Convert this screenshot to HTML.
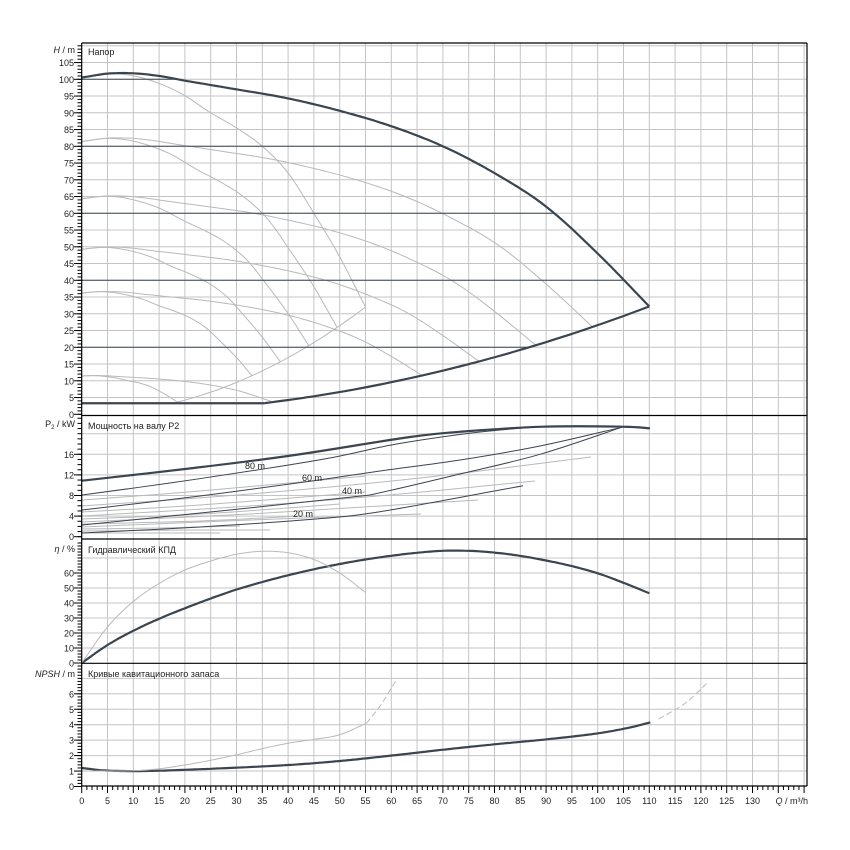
<!DOCTYPE html>
<html><head><meta charset="utf-8">
<style>
html,body{margin:0;padding:0;background:#fff;}
svg{display:block;font-family:"Liberation Sans",sans-serif;}
</style></head>
<body>
<svg id="s" width="850" height="850" viewBox="0 0 850 850" xmlns="http://www.w3.org/2000/svg">
<rect width="850" height="850" fill="#fff"/>
<g id="grid"></g>
<g id="curves"></g>
<g id="axes"></g>
<g font-size="9" fill="#222">
<text x="88" y="55">Напор</text>
<text x="88" y="429">Мощность на валу P2</text>
<text x="88" y="553">Гидравлический КПД</text>
<text x="88" y="677">Кривые кавитационного запаса</text>
<text x="245" y="469">80 m</text>
<text x="302" y="481">60 m</text>
<text x="342" y="494">40 m</text>
<text x="293" y="517">20 m</text>
<text x="75" y="53" text-anchor="end"><tspan font-style="italic">H</tspan> / m</text>
<text x="75" y="427" text-anchor="end">P<tspan font-size="6" dy="2">2</tspan><tspan dy="-2"> / kW</tspan></text>
<text x="75" y="552" text-anchor="end"><tspan font-style="italic">η</tspan> / %</text>
<text x="75" y="677" text-anchor="end"><tspan font-style="italic">NPSH</tspan> / m</text>
<text x="808" y="804" text-anchor="end"><tspan font-style="italic">Q</tspan> / m³/h</text>
</g>
<g id="labels" font-size="9" fill="#222"></g>
</svg>
<script>
const NS="http://www.w3.org/2000/svg";
const X=q=>81.7+5.16*q;
const YH=h=>414.3-3.35*h;
const YP=p=>536.7-5.15*p;
const YE=e=>663-1.5*e;
const YN=v=>786.5-15.45*v;
function el(parent,tag,attrs,text){const e=document.createElementNS(NS,tag);for(const k in attrs)e.setAttribute(k,attrs[k]);if(text!==undefined)e.textContent=text;document.getElementById(parent).appendChild(e);return e;}
function line(p,x1,y1,x2,y2,st,w){el(p,'line',{x1,y1,x2,y2,stroke:st,'stroke-width':w||1});}
function interp(pts,x){
 const n=pts.length;
 if(x<=pts[0][0])return pts[0][1];
 if(x>=pts[n-1][0])return pts[n-1][1];
 let i=1;while(pts[i][0]<x)i++;
 const a=pts[i-1],b=pts[i];
 const tg=k=>{if(k<=0)return (pts[1][1]-pts[0][1])/(pts[1][0]-pts[0][0]);if(k>=n-1)return (pts[n-1][1]-pts[n-2][1])/(pts[n-1][0]-pts[n-2][0]);return (pts[k+1][1]-pts[k-1][1])/(pts[k+1][0]-pts[k-1][0]);};
 const h=b[0]-a[0],t=(x-a[0])/h,t2=t*t,t3=t2*t;
 return (2*t3-3*t2+1)*a[1]+(t3-2*t2+t)*h*tg(i-1)+(-2*t3+3*t2)*b[1]+(t3-t2)*h*tg(i);
}
function smooth(pts){
 let d='M'+pts[0][0].toFixed(1)+','+pts[0][1].toFixed(1);
 for(let i=0;i<pts.length-1;i++){const p0=pts[i-1]||pts[i],p1=pts[i],p2=pts[i+1],p3=pts[i+2]||p2;
  const c1=[p1[0]+(p2[0]-p0[0])/6,p1[1]+(p2[1]-p0[1])/6],c2=[p2[0]-(p3[0]-p1[0])/6,p2[1]-(p3[1]-p1[1])/6];
  d+='C'+c1[0].toFixed(1)+','+c1[1].toFixed(1)+' '+c2[0].toFixed(1)+','+c2[1].toFixed(1)+' '+p2[0].toFixed(1)+','+p2[1].toFixed(1);}
 return d;}
function path(p,pts,st,w,extra){const a={d:smooth(pts),fill:'none',stroke:st,'stroke-width':w,'stroke-linejoin':'round'};Object.assign(a,extra||{});return el(p,'path',a);}
function fpath(p,data,fx,fy,lo,hi,n,st,w,extra){const pts=[];for(let i=0;i<=n;i++){const q=lo+(hi-lo)*i/n;pts.push([fx(q),fy(interp(data,q))]);}return path(p,pts,st,w,extra);}
const DARK='#3b4550', GRAY='#b9b9b9', GRID='#c4c4c4';

for(let q=5;q<=140;q+=5){line('grid',X(q),43,X(q),786,GRID,1);}
for(let h=5;h<=110;h+=5){line('grid',81.7,YH(h),807,YH(h),GRID,1);}
for(let p=4;p<=20;p+=4){line('grid',81.7,YP(p),807,YP(p),GRID,1);}
for(let e=10;e<=70;e+=10){line('grid',81.7,YE(e),807,YE(e),GRID,1);}
for(let v=1;v<=7;v++){line('grid',81.7,YN(v),807,YN(v),GRID,1);}

// ===== H panel =====
const B=[[0,100.5],[5,101.7],[10,101.8],[15,101],[20,99.6],[30,97],[40,94.3],[50,90.6],[60,86],[70,80],[80,72],[90,62],[100,48],[110,32.2]];
const S=[[0,100.5],[6,101.7],[12,100.3],[19,96],[25,90],[30,85.5],[35,80],[40,72],[45,60],[50,47],[55,32]];
const sys=(q,h0,q0)=>h0*(q/q0)*(q/q0);
[1,0.9,0.8,0.7,0.6,0.337].forEach(n=>{const pts=[];for(let i=0;i<=40;i++){const q=55*n*i/40;pts.push([X(q),YH(n*n*interp(S,q/n))]);}path('curves',pts,GRAY,1);});
[0.9,0.8,0.7,0.6,0.337].forEach(n=>{const pts=[];for(let i=0;i<=50;i++){const q=110*n*i/50;pts.push([X(q),YH(n*n*interp(B,q/n))]);}path('curves',pts,GRAY,1);});
{const pts=[];for(let i=0;i<=20;i++){const q=17.6+(55-17.6)*i/20;pts.push([X(q),YH(sys(q,32,55))]);}path('curves',pts,GRAY,1);}
const up=[];for(let i=0;i<=80;i++){const q=110*i/80;up.push([X(q),YH(interp(B,q))]);}
const low=[];for(let i=0;i<=30;i++){const q=110-(110-35.5)*i/30;low.push([X(q),YH(sys(q,32.2,110))]);}
low.push([X(0),YH(3.3)]);
let cp='M'+up.map(p=>p[0].toFixed(1)+','+p[1].toFixed(1)).join('L')+'L'+low.map(p=>p[0].toFixed(1)+','+p[1].toFixed(1)).join('L')+'Z';
const defs=el('curves','defs',{});const clip=document.createElementNS(NS,'clipPath');clip.setAttribute('id','env');const cpp=document.createElementNS(NS,'path');cpp.setAttribute('d',cp);clip.appendChild(cpp);defs.appendChild(clip);
const dg=el('curves','g',{'clip-path':'url(#env)'});
[20,40,60,80,100].forEach(h=>{const l=document.createElementNS(NS,'line');l.setAttribute('x1',81.7);l.setAttribute('x2',807);l.setAttribute('y1',YH(h));l.setAttribute('y2',YH(h));l.setAttribute('stroke',DARK);l.setAttribute('stroke-width',1);dg.appendChild(l);});
path('curves',up,DARK,2.2);
path('curves',[[X(110),YH(32.2)]].concat(low.slice(1,-1)),DARK,2.2);
line('curves',X(0),YH(3.3),X(35.5),YH(3.3),DARK,2.2);

// ===== P panel =====
const grayP=[
 [[82,506],[250,494],[420,478],[591,457]],
 [[82,516],[250,506],[400,494],[535,481]],
 [[82,522],[250,514],[380,506],[478,500]],
 [[82,527],[250,520],[421,514]],
 [[82,531],[200,530],[270,530]],
 [[82,500],[200,491],[366,476]],
 [[82,512],[200,505],[366,492]],
 [[82,519],[200,514],[340,504]],
 [[82,524],[200,521],[300,516]],
 [[82,529],[160,528],[240,526]],
 [[82,533],[160,533],[220,533]]
];
grayP.forEach(p=>path('curves',p,GRAY,1));
path('curves',[[82,533],[200,527],[303,520],[380,511.7],[523,485.7]],DARK,1);
path('curves',[[82,525],[220,511],[352,497],[380,492.7],[460,474],[540,454.3],[621.7,427.3]],DARK,1);
path('curves',[[82,510],[200,496],[312,481],[380,471],[460,460],[540,446],[621.7,427.3]],DARK,1);
path('curves',[[82,495],[170,483],[257,470],[330,458],[380,447.3],[410,441.7],[480,432],[540,426.7]],DARK,1);
path('curves',[[82,480.7],[185,469],[288,456],[410,437],[470,431],[543,426.7],[622,426.7],[650,428.3]],DARK,2.2);

// ===== Eta panel =====
const E=[[0,0],[5,12],[10,21.5],[15,29.5],[20,36.5],[25,43],[30,49],[35,54],[40,58.5],[45,62.5],[50,66],[55,69],[60,71.5],[65,73.5],[70,74.8],[75,74.8],[80,73.6],[85,71.4],[90,68.3],[95,64.6],[100,59.8],[105,53.5],[110,46.5]];
fpath('curves',E,X,YE,0,110,110,DARK,2.2);
const Eg=[[0,0],[5,24],[10,41],[15,53],[20,62],[25,68],[30,72.5],[35,74.5],[40,73.5],[45,69],[50,60],[55,47]];
fpath('curves',Eg,X,YE,0,55,55,GRAY,1);

// ===== NPSH panel =====
const N=[[0,1.2],[4,1.05],[9,1.0],[15,1.02],[20,1.08],[30,1.22],[40,1.39],[50,1.65],[60,2.0],[70,2.38],[80,2.73],[90,3.05],[100,3.44],[106,3.8],[110.2,4.15]];
fpath('curves',N,X,YN,0,110.2,110,DARK,2.2);
const Ng=[[0,1.0],[10,1.02],[15,1.15],[20,1.39],[25,1.7],[30,2.05],[35,2.45],[40,2.8],[45,3.05],[50,3.35],[55.2,4.1]];
fpath('curves',Ng,X,YN,0,55.2,55,GRAY,1);
path('curves',[[X(55.2),YN(4.1)],[X(58),YN(5.3)],[X(60.8),YN(6.8)]],GRAY,1,{'stroke-dasharray':'6,3'});
path('curves',[[X(111.8),YN(4.37)],[X(117),YN(5.4)],[X(121.5),YN(6.8)]],GRAY,1,{'stroke-dasharray':'6,3'});

// ===== axes =====
line('axes',81.7,43,807,43,'#000',1.2);
line('axes',807,43,807,786,'#000',1.2);
line('axes',81.7,43,81.7,786,'#000',1.2);
line('axes',81.7,786,807,786,'#000',1.2);
line('axes',81.7,415.5,807,415.5,'#000',1.2);
line('axes',81.7,539,807,539,'#000',1.2);
line('axes',81.7,663.3,807,663.3,'#000',1.2);
for(let q=0;q<=140;q++){const big=q%5==0;line('axes',X(q),786,X(q),786+(big?7:4),'#000',1);}
for(let q=0;q<=130;q+=5){el('labels','text',{x:X(q),y:804,'text-anchor':'middle'},String(q));}
function yt(lo,hi,step,fy,top,bot){for(let v=lo;v<=hi+1e-9;v+=step){const y=fy(v);if(y<top||y>bot)continue;line('axes',77.5,y,81.7,y,'#000',1);}}
yt(0,110,1,YH,44,415);
yt(0,23,1,YP,417,539);
yt(0,80,2,YE,541,663);
yt(0,8,0.2,YN,665,786);
function yl(vals,fy){vals.forEach(v=>{const y=fy(v);line('axes',74,y,81.7,y,'#000',1);el('labels','text',{x:74,y:y+3.5,'text-anchor':'end'},String(v));});}
yl([0,5,10,15,20,25,30,35,40,45,50,55,60,65,70,75,80,85,90,95,100,105],YH);
yl([0,4,8,12,16],YP);
yl([0,10,20,30,40,50,60],YE);
yl([0,1,2,3,4,5,6],YN);
</script>
</body></html>
